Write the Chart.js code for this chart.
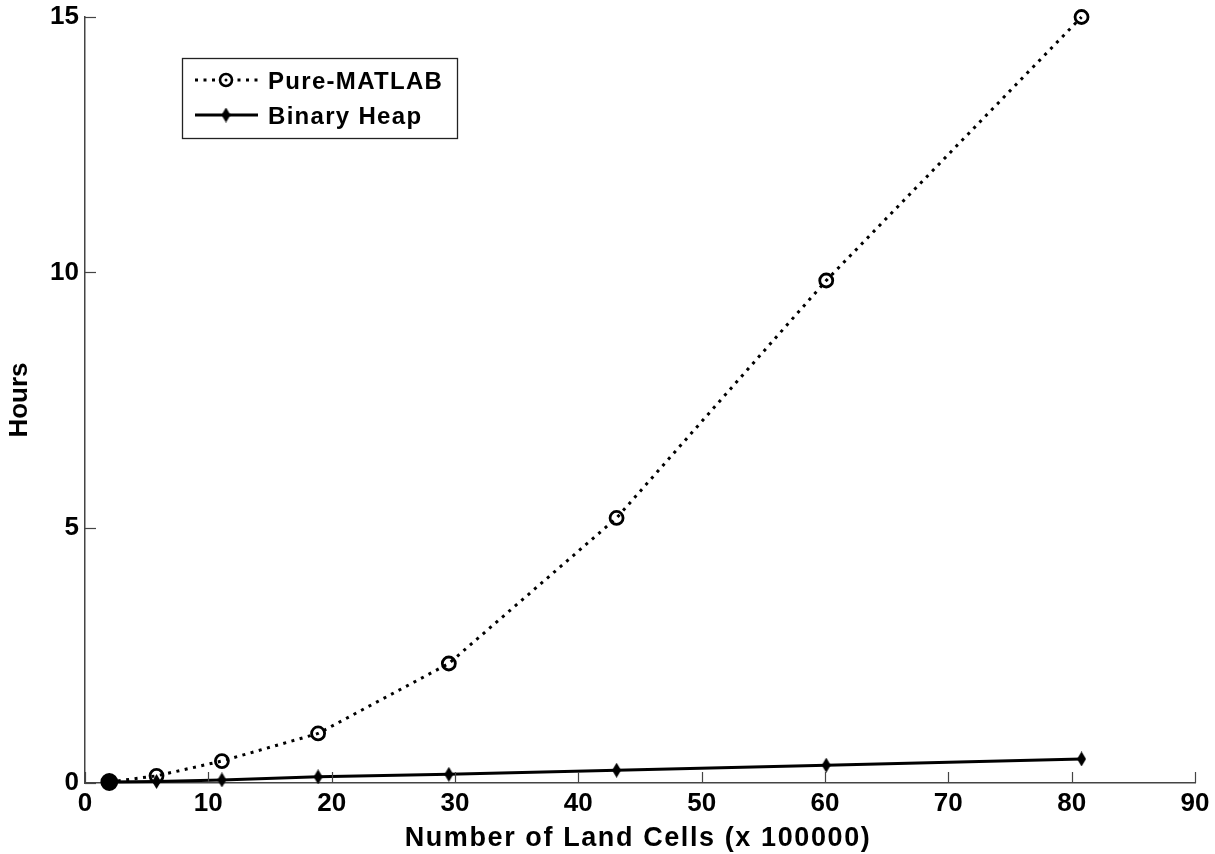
<!DOCTYPE html>
<html>
<head>
<meta charset="utf-8">
<script src="https://cdn.jsdelivr.net/npm/chart.js@4"></script>
<style>
  html, body { margin: 0; padding: 0; background: #fff; }
  #wrap { width: 1215px; height: 854px; }
</style>
</head>
<body>
<div id="wrap"><canvas id="c" width="1215" height="854"></canvas></div>
<script>
const landCells = [1.97, 5.8, 11.1, 18.9, 29.5, 43.1, 60.1, 80.8];
const pureMatlab = [0.02, 0.14, 0.43, 0.97, 2.34, 5.19, 9.84, 15.0];
const binaryHeap = [0.02, 0.03, 0.06, 0.12, 0.17, 0.25, 0.35, 0.47];
const xTicks = [0, 10, 20, 30, 40, 50, 60, 70, 80, 90];
const yTicks = [0, 5, 10, 15];
const seriesNames = ['Pure-MATLAB', 'Binary Heap'];
const xTitle = 'Number of Land Cells (x 100000)';
const yTitle = 'Hours';

const FONT = '"Liberation Sans", Arial, sans-serif';

function pts(xs, ys) { return xs.map((x, i) => ({ x: x, y: ys[i] })); }

// elongated diamond marker (MATLAB-like)
function diamondMarker(w, h) {
  const cv = document.createElement('canvas');
  cv.width = w; cv.height = h;
  const c = cv.getContext('2d');
  c.fillStyle = '#000';
  c.beginPath();
  c.moveTo(w / 2, 0); c.lineTo(w, h / 2); c.lineTo(w / 2, h); c.lineTo(0, h / 2);
  c.closePath(); c.fill();
  return cv;
}
const heapMarker = diamondMarker(9, 15);

const spacing = {
  id: 'spacing',
  beforeDraw(chart) { chart.ctx.letterSpacing = '0px'; }
};

const inwardTicks = {
  id: 'inwardTicks',
  afterDatasetsDraw(chart) {
    const ctx = chart.ctx;
    const xs = chart.scales.x, ys = chart.scales.y;
    const area = chart.chartArea;
    ctx.save();
    ctx.strokeStyle = '#444';
    ctx.lineWidth = 1.2;
    const L = 11;
    xTicks.forEach(v => {
      const px = Math.round(xs.getPixelForValue(v)) + 0.5;
      ctx.beginPath(); ctx.moveTo(px, area.bottom); ctx.lineTo(px, area.bottom - L); ctx.stroke();
    });
    yTicks.forEach(v => {
      const py = Math.round(ys.getPixelForValue(v)) + 0.5;
      ctx.beginPath(); ctx.moveTo(area.left, py); ctx.lineTo(area.left + L, py); ctx.stroke();
    });
    ctx.restore();
  }
};

const xTitlePlugin = {
  id: 'xTitlePlugin',
  afterDraw(chart) {
    const ctx = chart.ctx;
    const area = chart.chartArea;
    ctx.save();
    ctx.fillStyle = '#000';
    ctx.font = 'bold 27px ' + FONT;
    ctx.letterSpacing = '1.6px';
    ctx.textAlign = 'center';
    ctx.textBaseline = 'alphabetic';
    ctx.fillText(xTitle, (area.left + area.right) / 2 - 2, 846);
    ctx.restore();
  }
};

const matlabLegend = {
  id: 'matlabLegend',
  afterDraw(chart) {
    const ctx = chart.ctx;
    ctx.save();
    const bx = 182, by = 58, bw = 275, bh = 80;
    ctx.fillStyle = '#fff';
    ctx.fillRect(bx, by, bw, bh);
    ctx.strokeStyle = '#222';
    ctx.lineWidth = 1.3;
    ctx.strokeRect(bx + 0.5, by + 0.5, bw, bh);
    const rows = [80, 115];
    chart.data.datasets.forEach((ds, i) => {
      const y = rows[i];
      ctx.strokeStyle = '#000';
      ctx.lineWidth = ds.borderWidth;
      ctx.setLineDash(ds.borderDash || []);
      ctx.beginPath(); ctx.moveTo(195, y); ctx.lineTo(258, y); ctx.stroke();
      ctx.setLineDash([]);
      if (i === 0) {
        ctx.lineWidth = 2.6;
        ctx.fillStyle = '#fff';
        ctx.beginPath(); ctx.arc(226, y, 6, 0, Math.PI * 2); ctx.fill(); ctx.stroke();
        ctx.fillStyle = '#000';
        ctx.beginPath(); ctx.arc(226, y, 1.5, 0, Math.PI * 2); ctx.fill();
      } else {
        ctx.drawImage(heapMarker, 226 - heapMarker.width / 2, y - heapMarker.height / 2);
      }
      ctx.fillStyle = '#000';
      ctx.font = 'bold 24px ' + FONT;
      ctx.letterSpacing = '1.3px';
      ctx.textBaseline = 'alphabetic';
      ctx.textAlign = 'left';
      ctx.fillText(ds.label, 268, y + 8.5);
      ctx.letterSpacing = '0px';
    });
    ctx.restore();
  }
};

new Chart(document.getElementById('c'), {
  type: 'scatter',
  data: {
    datasets: [
      {
        label: seriesNames[0],
        data: pts(landCells, pureMatlab),
        showLine: true,
        borderColor: '#000',
        borderWidth: 3,
        borderDash: [3, 5.5],
        borderCapStyle: 'butt',
        pointStyle: 'circle',
        pointRadius: (c) => c.dataIndex === 0 ? 7.5 : 6.5,
        pointBorderWidth: 2.8,
        pointBorderColor: '#000',
        pointBackgroundColor: (c) => c.dataIndex === 0 ? '#000' : 'rgba(0,0,0,0)',
        clip: false,
        order: 1
      },
      {
        label: seriesNames[1],
        data: pts(landCells, binaryHeap),
        showLine: true,
        borderColor: '#000',
        borderWidth: 3,
        pointStyle: heapMarker,
        pointRadius: 6,
        pointBorderColor: '#000',
        pointBackgroundColor: '#000',
        clip: false,
        order: 2
      }
    ]
  },
  options: {
    responsive: false,
    animation: false,
    layout: { padding: { left: 0, right: 20, top: 17, bottom: 0 } },
    plugins: {
      legend: { display: false },
      tooltip: { enabled: false }
    },
    scales: {
      x: {
        type: 'linear',
        min: 0, max: 90,
        afterBuildTicks: (s) => { s.ticks = xTicks.map(v => ({ value: v })); },
        afterFit: (s) => { s.height = 71; },
        grid: { display: false, drawTicks: false },
        border: { display: true, color: '#444', width: 1.5 },
        ticks: {
          color: '#000',
          font: { family: FONT, size: 26, weight: 'bold' },
          padding: 5,
          maxRotation: 0
        },
        title: { display: false }
      },
      y: {
        type: 'linear',
        min: 0, max: 15,
        afterBuildTicks: (s) => { s.ticks = yTicks.map(v => ({ value: v })); },
        afterFit: (s) => { s.width = 85; s.paddingTop = 0; s.paddingBottom = 0; },
        grid: { display: false, drawTicks: false },
        border: { display: true, color: '#444', width: 1.5 },
        ticks: {
          color: '#000',
          font: { family: FONT, size: 26, weight: 'bold' },
          padding: 6
        },
        title: {
          display: true,
          text: yTitle,
          color: '#000',
          font: { family: FONT, size: 26, weight: 'bold' },
          padding: { top: 4, bottom: 0 }
        }
      }
    }
  },
  plugins: [spacing, inwardTicks, xTitlePlugin, matlabLegend]
});
</script>
</body>
</html>
